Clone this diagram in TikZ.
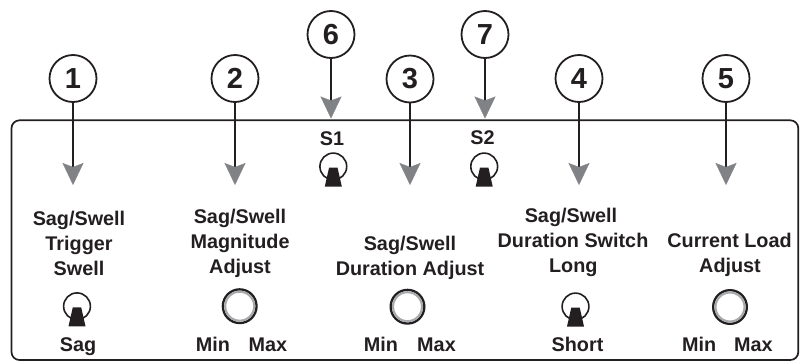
\documentclass[tikz,border=0pt]{standalone}
\usepackage{fontspec}
\setmainfont{Liberation Sans}
\usetikzlibrary{arrows.meta}
\definecolor{ink}{HTML}{231F20}
\definecolor{arrowgray}{HTML}{808285}
\definecolor{ringgray}{HTML}{A7A9AC}
\tikzset{
  num/.style={circle, draw=ink, line width=1.8pt, minimum size=47pt, inner sep=0pt, text=ink,
              font=\bfseries\fontsize{29}{29}\selectfont},
  lbl/.style={anchor=base, inner sep=0pt, text=ink, font=\bfseries\fontsize{19.8}{22}\selectfont},
  ptr/.style={draw=ink, line width=1.9pt,
              -{Stealth[length=22pt,width=21pt,inset=4pt,line width=0.3pt,color=arrowgray]}},
  frame/.style={draw=ink, line width=1.7pt, rounded corners=8pt},
  toggle/.pic={
    \draw[ink, line width=1.6pt] (0,0) circle[radius=13.4pt];
    \fill[ink] (-4.2,1) -- (4.2,1) -- (8.5,20) -- (-8.5,20) -- cycle;
  },
  knob/.pic={
    \draw[ink, line width=2.3pt] (0,0) circle[radius=16.85pt];
    \draw[ringgray, line width=2.1pt] (0,0) circle[radius=14.5pt];
  }
}
\begin{document}
\begin{tikzpicture}[x=1pt, y=-1pt]
\useasboundingbox (0,0) rectangle (802,362);

% panel frame
\draw[frame] (11.5,120.3) rectangle (798.3,360);

% numbered callouts
\node[num] (c1) at (73,78.5) {1};
\node[num] (c2) at (235,78.5) {2};
\node[num] (c3) at (410,79) {3};
\node[num] (c4) at (579,78.5) {4};
\node[num] (c5) at (726,78.5) {5};
\node[num] (c6) at (331,34.5) {6};
\node[num] (c7) at (485,34.5) {7};

% arrow tips
\coordinate (t1) at (73,185);
\coordinate (t2) at (235,185);
\coordinate (t3) at (410,185);
\coordinate (t4) at (579,185);
\coordinate (t5) at (726,185);
\coordinate (t6) at (331,118.5);
\coordinate (t7) at (485,118.5);

\draw[ptr] (c1) -- (t1);
\draw[ptr] (c2) -- (t2);
\draw[ptr] (c3) -- (t3);
\draw[ptr] (c4) -- (t4);
\draw[ptr] (c5) -- (t5);
\draw[ptr] (c6) -- (t6);
\draw[ptr] (c7) -- (t7);

% S1 / S2
\node[lbl] (s1) at (332,145) {S1};
\node[lbl] (s2) at (482.5,144.5) {S2};
\pic at (333.3,166.5) {toggle};
\pic at (484.2,166.5) {toggle};

% column 1
\node[lbl] (a1) at (79,225) {Sag/Swell};
\node[lbl] (a2) at (79,250.5) {Trigger};
\node[lbl] (a3) at (79,275) {Swell};
\pic at (77,306.3) {toggle};
\node[lbl] (a4) at (78,351.5) {Sag};

% column 2
\node[lbl] (b1) at (240,223.5) {Sag/Swell};
\node[lbl] (b2) at (240,248.5) {Magnitude};
\node[lbl] (b3) at (240,273) {Adjust};
\pic at (239.7,306.2) {knob};
\node[lbl] (b4) at (213,351.5) {Min};
\node[lbl] (b5) at (268,351.5) {Max};

% column 3
\node[lbl] (d1) at (410,250) {Sag/Swell};
\node[lbl] (d2) at (410,275) {Duration Adjust};
\pic at (407.5,306.7) {knob};
\node[lbl] (d4) at (381,351.5) {Min};
\node[lbl] (d5) at (436.5,351.5) {Max};

% column 4
\node[lbl] (e1) at (571,222) {Sag/Swell};
\node[lbl] (e2) at (573,247.2) {Duration Switch};
\node[lbl] (e3) at (573.3,272.7) {Long};
\pic at (575.5,306.5) {toggle};
\node[lbl] (e4) at (577.5,351) {Short};

% column 5
\node[lbl] (f1) at (729.5,247.3) {Current Load};
\node[lbl] (f2) at (730,272.2) {Adjust};
\pic at (730,307) {knob};
\node[lbl] (f4) at (699.2,351.5) {Min};
\node[lbl] (f5) at (753.3,351.5) {Max};
\end{tikzpicture}
\end{document}
